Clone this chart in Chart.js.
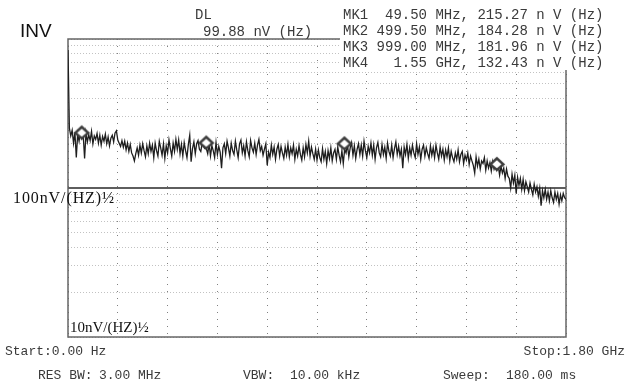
<!DOCTYPE html>
<html><head><meta charset="utf-8">
<script src="https://cdn.jsdelivr.net/npm/chart.js@4"></script>
<style>
html,body{margin:0;padding:0;background:#fff;}
#wrap{position:relative;width:628px;height:381px;overflow:hidden;background:#fff;}
canvas{position:absolute;left:0;top:0;}
.m{position:absolute;white-space:pre;font-family:"Liberation Mono","DejaVu Sans Mono",monospace;font-size:14px;line-height:16px;color:#3a3a3a;}
.s{position:absolute;white-space:pre;font-family:"Liberation Serif","DejaVu Serif",serif;color:#111;line-height:18px;}
#mk{position:absolute;left:340px;top:0;width:288px;height:70px;background:#fff;}
</style></head><body>
<div id="wrap">
<canvas id="c" width="628" height="381"></canvas>
<div id="mk"></div>
<div id="overlay"></div>
</div>
<script>
// ---- data ----
const freqStepMHz = 5;
const noiseNV = [
844,252,224,244,200,236,160,230,206,242,215,226,158,234,204,228,208,240,198,224,
212,232,200,226,194,222,206,230,198,220,192,216,226,204,234,242,210,200,190,208,
188,206,180,200,176,196,172,164,152,170,186,166,194,172,198,178,162,192,170,200,
176,194,160,200,178,164,206,186,166,198,158,192,172,210,184,164,200,176,212,182,
210,170,196,164,202,178,160,196,226,150,184,204,170,198,208,182,176,200,190,184,
184,170,198,164,192,178,160,202,168,190,174,136,186,198,170,206,186,164,200,178,
168,206,180,160,198,210,172,192,164,204,178,162,208,186,174,200,168,194,212,178,
190,166,182,198,142,174,160,194,168,188,156,182,196,164,190,172,158,188,166,196,
162,186,170,194,156,182,164,192,168,154,186,162,196,172,206,164,188,170,156,182,
154,180,160,150,184,156,176,146,178,158,186,152,172,182,156,188,166,150,178,146,
182,172,196,162,186,202,166,192,158,182,198,168,194,164,206,178,160,190,172,200,
166,194,156,186,202,172,162,196,168,188,158,200,176,164,194,160,184,204,168,190,
164,182,136,188,168,196,158,186,166,194,172,160,198,168,188,156,182,194,164,186,
170,158,192,166,186,160,194,172,156,188,164,182,154,180,162,186,152,176,160,150,
172,156,180,150,168,176,146,166,154,172,144,164,152,142,126,162,140,156,134,152,
146,160,132,152,136,148,130,150,134,144,132,142,122,140,126,136,116,134,120,116,
100,124,108,122,92,118,104,116,98,114,96,110,102,94,108,98,90,106,94,102,
88,100,76,96,86,98,84,94,82,96,86,80,94,84,92,78,90,82,92,86,
84
];
const freqMHz = noiseNV.map((_, i) => i * freqStepMHz);
const markerNames = ['MK1', 'MK2', 'MK3', 'MK4'];
const markerFreqMHz = [49.5, 499.5, 999.0, 1550.0];
const markerNV = [215.27, 184.28, 181.96, 132.43];
const markerReadout = [
  'MK1  49.50 MHz, 215.27 n V (Hz)',
  'MK2 499.50 MHz, 184.28 n V (Hz)',
  'MK3 999.00 MHz, 181.96 n V (Hz)',
  'MK4   1.55 GHz, 132.43 n V (Hz)'
];
const refLevelNV = 100;
const yGridNV = [10,20,30,40,50,60,70,80,90,100,200,300,400,500,600,700,800,900,1000];
const xGridMHz = [0,180,360,540,720,900,1080,1260,1440,1620,1800];
const yLabels = ['100nV/(HZ)½', '10nV/(HZ)½'];
const headerTexts = ['INV', 'DL', '99.88 nV (Hz)'];
const footerTexts = ['Start:0.00 Hz', 'Stop:1.80 GHz', 'RES BW:', '3.00 MHz', 'VBW:', '10.00 kHz', 'Sweep:', '180.00 ms'];

// ---- marker glyph: diamond whose bottom tip sits on the point ----
function makeDiamond() {
  const c = document.createElement('canvas');
  c.width = 18; c.height = 28;
  const g = c.getContext('2d');
  g.lineWidth = 2.4; g.strokeStyle = '#3c3c3c'; g.fillStyle = '#fff';
  g.beginPath();
  g.moveTo(9, 2.5); g.lineTo(15.5, 8.5); g.lineTo(9, 14); g.lineTo(2.5, 8.5); g.closePath();
  g.fill(); g.stroke();
  return c;
}

const boxPlugin = {
  id: 'box',
  beforeDatasetsDraw(chart) {
    const {ctx, chartArea: a} = chart;
    ctx.save();
    ctx.strokeStyle = '#666';
    ctx.lineWidth = 1.5;
    ctx.strokeRect(a.left, a.top, a.right - a.left, a.bottom - a.top);
    ctx.restore();
  }
};

new Chart(document.getElementById('c'), {
  type: 'line',
  data: {
    datasets: [
      {
        type: 'scatter',
        data: markerFreqMHz.map((f, i) => ({x: f, y: markerNV[i]})),
        pointStyle: makeDiamond(),
        pointRadius: 6,
        showLine: false,
        order: 0
      },
      {
        data: [{x: 0, y: refLevelNV}, {x: 1800, y: refLevelNV}],
        borderColor: '#5e5e5e',
        borderWidth: 2,
        pointRadius: 0,
        order: 2
      },
      {
        data: freqMHz.map((f, i) => ({x: f, y: noiseNV[i]})),
        borderColor: '#1e1e1e',
        borderWidth: 1.3,
        pointRadius: 0,
        tension: 0,
        order: 1
      }
    ]
  },
  options: {
    responsive: false,
    devicePixelRatio: 1,
    animation: false,
    layout: {padding: {left: 68, right: 62, top: 39, bottom: 44}},
    plugins: {legend: {display: false}, tooltip: {enabled: false}},
    scales: {
      x: {
        type: 'linear', min: 0, max: 1800,
        afterBuildTicks: s => { s.ticks = xGridMHz.map(v => ({value: v})); },
        ticks: {display: false},
        grid: {color: '#808080', lineWidth: 1, drawTicks: false},
        border: {display: false, dash: [1, 6]}
      },
      y: {
        type: 'logarithmic', min: 10, max: 1000,
        afterBuildTicks: s => { s.ticks = yGridNV.map(v => ({value: v})); },
        ticks: {display: false},
        grid: {color: '#c2c2c2', lineWidth: 1, drawTicks: false},
        border: {display: false, dash: [1, 2]}
      }
    }
  },
  plugins: [boxPlugin]
});

// ---- text overlays ----
const ov = document.getElementById('overlay');
function addText(cls, txt, css) {
  const d = document.createElement('div');
  d.className = cls; d.textContent = txt;
  Object.assign(d.style, css);
  ov.appendChild(d);
}
addText('s', headerTexts[0], {left: '20px', top: '22px', fontFamily: '"Liberation Sans",Arial,sans-serif', fontSize: '19px', color: '#111'});
addText('m', headerTexts[1], {left: '195px', top: '7px'});
addText('m', headerTexts[2], {left: '203px', top: '24px'});
markerReadout.forEach((t, i) => addText('m', t, {left: '343px', top: (7 + i * 16) + 'px'}));
addText('s', yLabels[0], {left: '13px', top: '189px', fontSize: '16px', letterSpacing: '0.9px'});
addText('s', yLabels[1], {left: '70px', top: '318px', fontSize: '15px'});
const foot = {fontSize: '13px'};
addText('m', footerTexts[0], Object.assign({left: '5px', top: '344px'}, foot));
addText('m', footerTexts[1], Object.assign({right: '3px', top: '344px'}, foot));
addText('m', footerTexts[2], Object.assign({left: '38px', top: '368px'}, foot));
addText('m', footerTexts[3], Object.assign({left: '99px', top: '368px'}, foot));
addText('m', footerTexts[4], Object.assign({left: '243px', top: '368px'}, foot));
addText('m', footerTexts[5], Object.assign({left: '290px', top: '368px'}, foot));
addText('m', footerTexts[6], Object.assign({left: '443px', top: '368px'}, foot));
addText('m', footerTexts[7], Object.assign({left: '506px', top: '368px'}, foot));
</script>
</body></html>
